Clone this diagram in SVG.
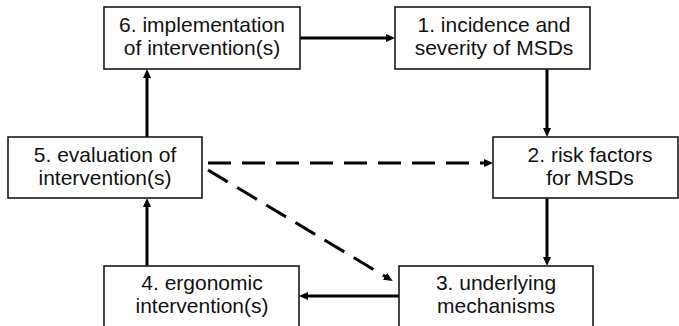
<svg xmlns="http://www.w3.org/2000/svg" width="679" height="326" viewBox="0 0 679 326">
  <style>
    .box { fill: #ffffff; stroke: #1a1a1a; stroke-width: 1.6; }
    .label { font-family: "Liberation Sans", Arial, Helvetica, sans-serif; font-size: 21px; fill: #111111; text-anchor: middle; }
    .link { fill: none; stroke: #000000; stroke-width: 3; }
    .dashed { stroke-dasharray: 23 11; }
  </style>
  <defs>
    <marker id="arrow" markerUnits="userSpaceOnUse" viewBox="0 0 9 8" markerWidth="9" markerHeight="8" refX="2" refY="4" orient="auto">
      <path d="M0,0 L9,4 L0,8 z" fill="#000000"/>
    </marker>
  </defs>

  <rect width="679" height="326" fill="#ffffff"/>

  <!-- connectors -->
  <g id="connectors">
    <line class="link" x1="300" y1="38" x2="388" y2="38" marker-end="url(#arrow)"/>
    <line class="link" x1="547" y1="69" x2="547" y2="130" marker-end="url(#arrow)"/>
    <line class="link" x1="547" y1="198" x2="547" y2="259" marker-end="url(#arrow)"/>
    <line class="link" x1="399" y1="296" x2="306" y2="296" marker-end="url(#arrow)"/>
    <line class="link" x1="147" y1="266" x2="147" y2="205" marker-end="url(#arrow)"/>
    <line class="link" x1="147" y1="137" x2="147" y2="76" marker-end="url(#arrow)"/>
    <line class="link dashed" x1="208" y1="163" x2="486" y2="163" marker-end="url(#arrow)"/>
    <line class="link dashed" x1="208" y1="170" x2="386.7" y2="277.4" marker-end="url(#arrow)"/>
  </g>

  <!-- nodes -->
  <g id="node6">
    <rect class="box" x="104" y="7" width="196" height="62"/>
    <text class="label" x="202" y="32">6. implementation</text>
    <text class="label" x="202" y="55">of intervention(s)</text>
  </g>
  <g id="node1">
    <rect class="box" x="395" y="7" width="195" height="62"/>
    <text class="label" x="494" y="32">1. incidence and</text>
    <text class="label" x="494" y="55">severity of MSDs</text>
  </g>
  <g id="node5">
    <rect class="box" x="8" y="137" width="194" height="61"/>
    <text class="label" x="105" y="162">5. evaluation of</text>
    <text class="label" x="105" y="185">intervention(s)</text>
  </g>
  <g id="node2">
    <rect class="box" x="493" y="137" width="185" height="61"/>
    <text class="label" x="590" y="162">2. risk factors</text>
    <text class="label" x="590" y="185">for MSDs</text>
  </g>
  <g id="node4">
    <rect class="box" x="104" y="266" width="195" height="64"/>
    <text class="label" x="202" y="290">4. ergonomic</text>
    <text class="label" x="202" y="313">intervention(s)</text>
  </g>
  <g id="node3">
    <rect class="box" x="399" y="266" width="194" height="64"/>
    <text class="label" x="496" y="290">3. underlying</text>
    <text class="label" x="496" y="313">mechanisms</text>
  </g>
</svg>
